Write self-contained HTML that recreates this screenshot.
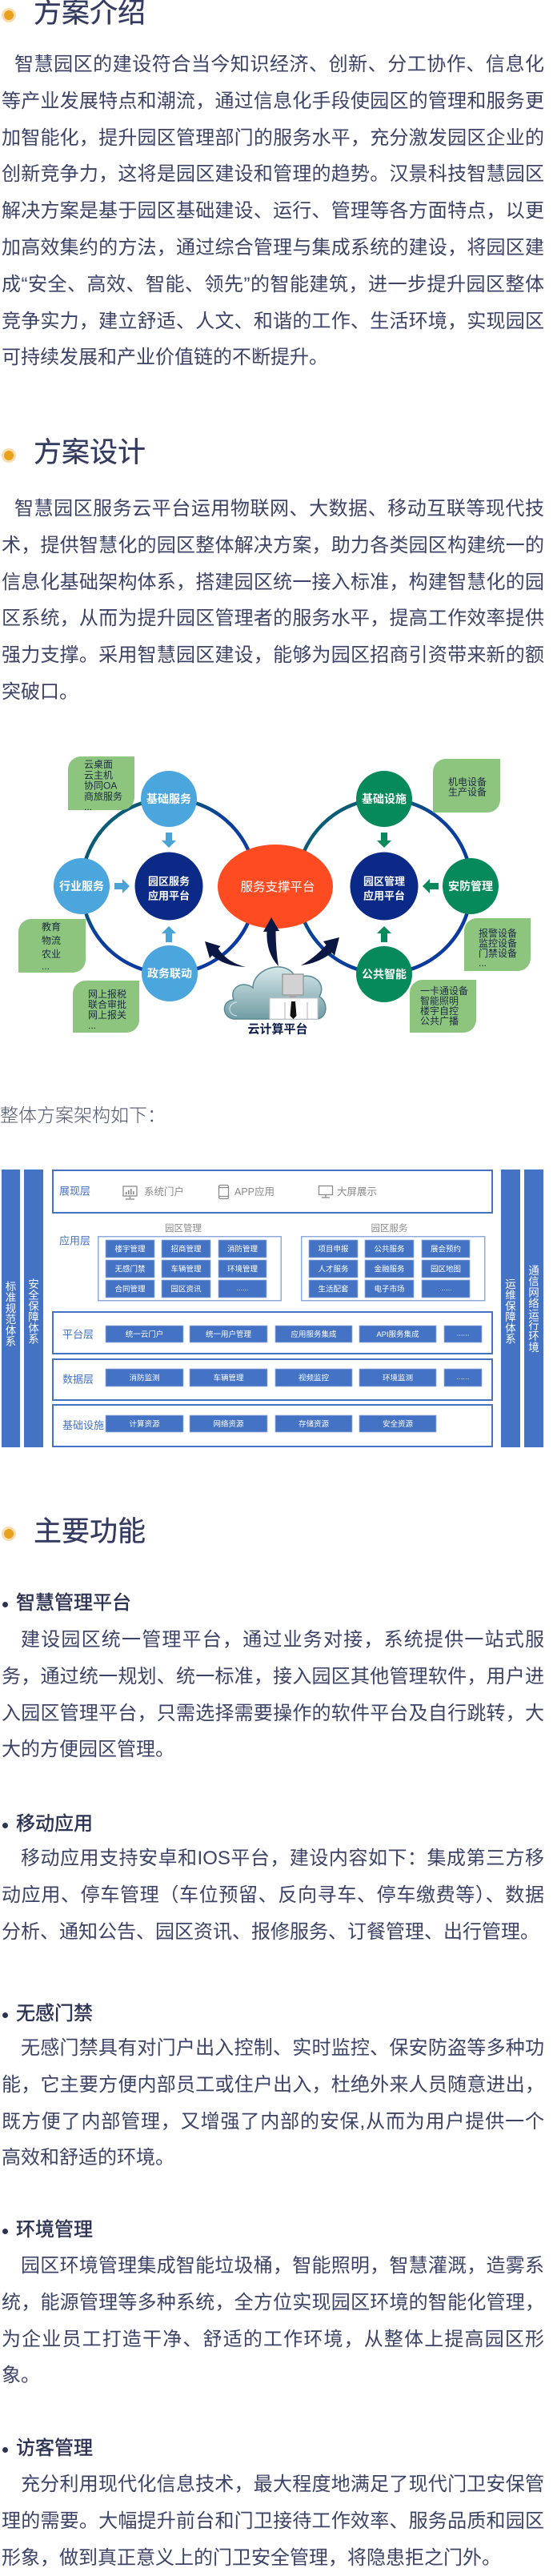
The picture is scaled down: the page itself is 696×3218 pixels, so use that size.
<!DOCTYPE html>
<html lang="zh-CN">
<head>
<meta charset="utf-8">
<style>
  html,body{margin:0;padding:0;background:#fff;}
  body{width:696px;height:3208px;position:relative;overflow:hidden;
       font-family:"Liberation Sans","Noto Sans CJK SC",sans-serif;}
  .h{position:absolute;left:42px;font-size:35px;line-height:40px;color:#353b60;white-space:nowrap;-webkit-text-stroke:0.3px #353b60;}
  .dot{position:absolute;left:2px;width:18px;height:18px;border-radius:50%;background:#f7ddb0;}
  .dot::after{content:"";position:absolute;left:3px;top:3px;width:12px;height:12px;border-radius:50%;background:#e9a11e;}
  .p{position:absolute;left:2px;width:678px;font-size:24px;line-height:45.8px;color:#3d4367;}
  .p div{text-align:justify;text-align-last:justify;height:45.8px;}
  .p div.last{text-align-last:left;}
  .p div.i16{padding-left:16px;}
  .p div.i24{padding-left:24px;}
  .s{position:absolute;left:20px;font-size:24px;line-height:46px;color:#2c3252;white-space:nowrap;-webkit-text-stroke:0.45px #2c3252;}
  .sd{position:absolute;left:3px;width:7px;height:7px;border-radius:50%;background:#2c3252;}
  .lbl{position:absolute;left:0;font-size:23px;line-height:30px;color:#50566f;font-weight:300;white-space:nowrap;}
  svg{position:absolute;left:0;}
</style>
</head>
<body>

<!-- Section 1 -->
<div class="dot" style="top:9.5px"></div>
<div class="h" style="top:-3px">方案介绍</div>
<div class="p" style="top:58px">
  <div class="i16">智慧园区的建设符合当今知识经济、创新、分工协作、信息化</div>
  <div>等产业发展特点和潮流，通过信息化手段使园区的管理和服务更</div>
  <div>加智能化，提升园区管理部门的服务水平，充分激发园区企业的</div>
  <div>创新竞争力，这将是园区建设和管理的趋势。汉景科技智慧园区</div>
  <div>解决方案是基于园区基础建设、运行、管理等各方面特点，以更</div>
  <div>加高效集约的方法，通过综合管理与集成系统的建设，将园区建</div>
  <div>成“安全、高效、智能、领先”的智能建筑，进一步提升园区整体</div>
  <div>竞争实力，建立舒适、人文、和谐的工作、生活环境，实现园区</div>
  <div class="last">可持续发展和产业价值链的不断提升。</div>
</div>

<!-- Section 2 -->
<div class="dot" style="top:560px"></div>
<div class="h" style="top:546px">方案设计</div>
<div class="p" style="top:613px">
  <div class="i16">智慧园区服务云平台运用物联网、大数据、移动互联等现代技</div>
  <div>术，提供智慧化的园区整体解决方案，助力各类园区构建统一的</div>
  <div>信息化基础架构体系，搭建园区统一接入标准，构建智慧化的园</div>
  <div>区系统，从而为提升园区管理者的服务水平，提高工作效率提供</div>
  <div>强力支撑。采用智慧园区建设，能够为园区招商引资带来新的额</div>
  <div class="last">突破口。</div>
</div>

<!-- Diagram 1 -->
<svg width="696" height="400" viewBox="0 900 696 400" style="top:900px" font-family="Liberation Sans, Noto Sans CJK SC, sans-serif">
  <defs>
    <linearGradient id="rg" x1="0" y1="0" x2="1" y2="1">
      <stop offset="0" stop-color="#0b5f72"/>
      <stop offset="0.3" stop-color="#0b5878"/>
      <stop offset="0.45" stop-color="#0a3f9c"/>
      <stop offset="1" stop-color="#0a38a0"/>
    </linearGradient>
    <linearGradient id="cg" x1="0" y1="0" x2="0" y2="1">
      <stop offset="0" stop-color="#d6e8ea"/>
      <stop offset="1" stop-color="#719da5"/>
    </linearGradient>
  </defs>
  <!-- rings -->
  <circle cx="211" cy="1107" r="109" fill="none" stroke="url(#rg)" stroke-width="4.5"/>
  <circle cx="480" cy="1107" r="109" fill="none" stroke="url(#rg)" stroke-width="4.5"/>
  <!-- ellipse -->
  <ellipse cx="344" cy="1107.5" rx="72" ry="52.5" fill="#ff4b22"/>
  <text x="347" y="1113" font-size="15.5" fill="#fff" text-anchor="middle">服务支撑平台</text>

  <!-- left satellites -->
  <circle cx="211" cy="998" r="35" fill="#4aa6dc"/>
  <circle cx="102" cy="1107" r="35" fill="#4aa6dc"/>
  <circle cx="212" cy="1216" r="35" fill="#4aa6dc"/>
  <text x="211" y="1003" font-size="14" fill="#fff" text-anchor="middle" font-weight="bold">基础服务</text>
  <text x="102" y="1112" font-size="14" fill="#fff" text-anchor="middle" font-weight="bold">行业服务</text>
  <text x="212" y="1221" font-size="14" fill="#fff" text-anchor="middle" font-weight="bold">政务联动</text>
  <!-- left center -->
  <circle cx="211" cy="1107" r="42.5" fill="#0b2a87"/>
  <text x="211" y="1105.5" font-size="13" fill="#fff" text-anchor="middle" font-weight="bold">园区服务</text>
  <text x="211" y="1123.5" font-size="13" fill="#fff" text-anchor="middle" font-weight="bold">应用平台</text>
  <!-- left arrows -->
  <polygon points="207,1040 215,1040 215,1050 220,1050 211,1059 202,1050 207,1050" fill="#49a3d8"/>
  <polygon points="143,1103 153,1103 153,1098 162,1107 153,1116 153,1111 143,1111" fill="#49a3d8"/>
  <polygon points="207,1177 215,1177 215,1166 220,1166 211,1157 202,1166 207,1166" fill="#49a3d8"/>

  <!-- right satellites -->
  <circle cx="480" cy="998" r="35" fill="#06895b"/>
  <circle cx="588" cy="1107" r="35" fill="#06895b"/>
  <circle cx="480" cy="1217" r="35" fill="#06895b"/>
  <text x="480" y="1003" font-size="14" fill="#fff" text-anchor="middle" font-weight="bold">基础设施</text>
  <text x="588" y="1112" font-size="14" fill="#fff" text-anchor="middle" font-weight="bold">安防管理</text>
  <text x="480" y="1222" font-size="14" fill="#fff" text-anchor="middle" font-weight="bold">公共智能</text>
  <circle cx="480" cy="1107" r="42.5" fill="#0b2a87"/>
  <text x="480" y="1105.5" font-size="13" fill="#fff" text-anchor="middle" font-weight="bold">园区管理</text>
  <text x="480" y="1123.5" font-size="13" fill="#fff" text-anchor="middle" font-weight="bold">应用平台</text>
  <polygon points="476,1040 484,1040 484,1050 489,1050 480,1059 471,1050 476,1050" fill="#06895b"/>
  <polygon points="548,1103 537,1103 537,1098 528,1107 537,1116 537,1111 548,1111" fill="#06895b"/>
  <polygon points="476,1177 484,1177 484,1166 489,1166 480,1157 471,1166 476,1166" fill="#06895b"/>

  <!-- green leaf boxes -->
  <g fill="#8dc47e">
    <path d="M85 961 A16 16 0 0 1 101 945 L168 945 L168 996 A16 16 0 0 1 152 1012 L85 1012 Z"/>
    <path d="M23 1164 A16 16 0 0 1 39 1148 L107 1148 L107 1199 A16 16 0 0 1 91 1215 L23 1215 Z"/>
    <path d="M91 1241 A16 16 0 0 1 107 1225 L174 1225 L174 1274 A16 16 0 0 1 158 1290 L91 1290 Z"/>
    <path d="M541 964 A16 16 0 0 1 557 948 L625 948 L625 999 A16 16 0 0 1 609 1015 L541 1015 Z"/>
    <path d="M580 1163 A16 16 0 0 1 596 1147 L663 1147 L663 1197 A16 16 0 0 1 647 1213 L580 1213 Z"/>
    <path d="M512 1240 A16 16 0 0 1 528 1224 L595 1224 L595 1274 A16 16 0 0 1 579 1290 L512 1290 Z"/>
  </g>
  <g font-size="12" fill="#1d2a45">
    <text x="105" y="959">云桌面</text>
    <text x="105" y="972.3">云主机</text>
    <text x="105" y="985.7">协同OA</text>
    <text x="105" y="999">商旅服务</text>
    <text x="105" y="1012">...</text>
    <text x="52" y="1162">教育</text>
    <text x="52" y="1179">物流</text>
    <text x="52" y="1196">农业</text>
    <text x="52" y="1211">...</text>
    <text x="110" y="1246">网上报税</text>
    <text x="110" y="1259">联合审批</text>
    <text x="110" y="1272">网上报关</text>
    <text x="110" y="1285">...</text>
    <text x="560" y="981">机电设备</text>
    <text x="560" y="993.5">生产设备</text>
    <text x="598" y="1170">报警设备</text>
    <text x="598" y="1182.5">监控设备</text>
    <text x="598" y="1195">门禁设备</text>
    <text x="598" y="1207">...</text>
    <text x="525" y="1242">一卡通设备</text>
    <text x="525" y="1254.5">智能照明</text>
    <text x="525" y="1267">楼宇自控</text>
    <text x="525" y="1279.5">公共广播</text>
  </g>

  <!-- cloud -->
  <path d="M293 1273 C277 1272 276 1250 292 1249 C286 1232 305 1225 316 1234 C316 1208 362 1196 370 1224 C385 1211 410 1226 399 1245 C411 1252 409 1273 395 1273 Z"
        fill="url(#cg)" stroke="#5a8a93" stroke-width="1.5"/>
  <path d="M296 1269 C284 1268 284 1253 296 1252" fill="none" stroke="#ffffff" stroke-opacity="0.6" stroke-width="1.2"/>
  <!-- person -->
  <rect x="353" y="1217" width="26" height="26" fill="#d2d2d2" stroke="#9e9e9e" stroke-width="1.5"/>
  <polygon points="360,1243 372,1243 366,1251" fill="#a8a8a8"/>
  <rect x="337" y="1247" width="60" height="26" fill="#ffffff" stroke="#c9c9c9" stroke-width="1"/>
  <line x1="356" y1="1252" x2="356" y2="1273" stroke="#bdbdbd" stroke-width="1.2"/>
  <line x1="384" y1="1252" x2="384" y2="1273" stroke="#bdbdbd" stroke-width="1.2"/>
  <polygon points="364,1251 369,1251 370.5,1269 366.5,1273 362.5,1269" fill="#111"/>
  <text x="347" y="1290.5" font-size="15" font-weight="bold" fill="#0d1d4a" text-anchor="middle">云计算平台</text>

  <!-- dark swoosh arrows -->
  <g fill="#0a1742">
    <path d="M272 1184 Q283 1202 307 1208 Q279 1207 263.5 1192 Z"/>
    <polygon points="256,1176 275.5,1182 262,1197"/>
    <path d="M333.5 1162 Q332 1190 348 1207 Q344.5 1186 344.5 1162 Z"/>
    <polygon points="339,1146 329,1164 349,1163"/>
    <path d="M408 1180 Q393 1197 376 1206 Q399 1203 416 1189 Z"/>
    <polygon points="424,1171 404,1176 418,1194"/>
  </g>
</svg>

<div class="lbl" style="top:1378px">整体方案架构如下：</div>

<!-- Architecture diagram -->
<svg width="696" height="370" viewBox="0 1450 696 370" style="top:1450px" font-family="Liberation Sans, Noto Sans CJK SC, sans-serif">
  <g fill="#4472c4">
    <rect x="2" y="1461" width="23" height="347"/>
    <rect x="30" y="1461" width="24" height="347"/>
    <rect x="626" y="1461" width="24" height="347"/>
    <rect x="655" y="1461" width="24" height="347"/>
  </g>
  <g font-size="13.5" fill="#fff" text-anchor="middle">
    <text x="13.5" y="1612"><tspan x="13.5">标</tspan><tspan x="13.5" dy="13.7">准</tspan><tspan x="13.5" dy="13.7">规</tspan><tspan x="13.5" dy="13.7">范</tspan><tspan x="13.5" dy="13.7">体</tspan><tspan x="13.5" dy="13.7">系</tspan></text>
    <text x="42" y="1609"><tspan x="42">安</tspan><tspan x="42" dy="13.7">全</tspan><tspan x="42" dy="13.7">保</tspan><tspan x="42" dy="13.7">障</tspan><tspan x="42" dy="13.7">体</tspan><tspan x="42" dy="13.7">系</tspan></text>
    <text x="638" y="1609"><tspan x="638">运</tspan><tspan x="638" dy="13.7">维</tspan><tspan x="638" dy="13.7">保</tspan><tspan x="638" dy="13.7">障</tspan><tspan x="638" dy="13.7">体</tspan><tspan x="638" dy="13.7">系</tspan></text>
    <text x="667" y="1592"><tspan x="667">通</tspan><tspan x="667" dy="13.7">信</tspan><tspan x="667" dy="13.7">网</tspan><tspan x="667" dy="13.7">络</tspan><tspan x="667" dy="13.7">运</tspan><tspan x="667" dy="13.7">行</tspan><tspan x="667" dy="13.7">环</tspan><tspan x="667" dy="13.7">境</tspan></text>
  </g>

  <!-- layer boxes -->
  <g fill="#fff" stroke="#4472c4" stroke-width="2">
    <rect x="66" y="1462" width="549" height="53"/>
    <rect x="66" y="1639" width="549" height="52"/>
    <rect x="66" y="1698" width="549" height="51"/>
    <rect x="66" y="1755" width="549" height="52"/>
  </g>
  <g fill="none" stroke="#8eaadb" stroke-width="1.5">
    <rect x="122.75" y="1544.75" width="228.5" height="80"/>
    <rect x="376.75" y="1544.75" width="229" height="80"/>
  </g>

  <!-- layer labels -->
  <g font-size="13" fill="#4472c4">
    <text x="74" y="1492.5">展现层</text>
    <text x="74" y="1554.5">应用层</text>
    <text x="78" y="1671.5">平台层</text>
    <text x="78" y="1727.5">数据层</text>
    <text x="78" y="1785">基础设施</text>
  </g>
  <g font-size="11.5" fill="#8c8c8c" text-anchor="middle">
    <text x="229" y="1538">园区管理</text>
    <text x="486.5" y="1538">园区服务</text>
  </g>

  <!-- presentation items -->
  <g font-size="12.5" fill="#8a8a8a">
    <text x="180" y="1493">系统门户</text>
    <text x="293" y="1493">APP应用</text>
    <text x="421" y="1493">大屏展示</text>
  </g>
  <g fill="none" stroke="#8a8a8a" stroke-width="1.3">
    <rect x="154" y="1482" width="17" height="12"/>
    <line x1="162.5" y1="1494" x2="162.5" y2="1497.5"/>
    <line x1="157" y1="1498" x2="168" y2="1498"/>
    <rect x="273.5" y="1480.5" width="12" height="17" rx="2"/>
    <line x1="273.5" y1="1483.5" x2="285.5" y2="1483.5"/>
    <line x1="273.5" y1="1494.5" x2="285.5" y2="1494.5"/>
    <rect x="398.5" y="1481.5" width="17" height="11"/>
    <line x1="407" y1="1492.5" x2="407" y2="1495.5"/>
    <line x1="402" y1="1496" x2="412" y2="1496"/>
  </g>
  <g fill="#8a8a8a">
    <rect x="157" y="1489" width="1.6" height="3"/>
    <rect x="160" y="1487" width="1.6" height="5"/>
    <rect x="163" y="1485" width="1.6" height="7"/>
    <rect x="166" y="1488" width="1.6" height="4"/>
  </g>

  <!-- buttons -->
  <g fill="#4472c4" stroke="#9cb3df" stroke-width="0.8">
    <rect x="132" y="1549" width="61" height="22"/><rect x="202" y="1549" width="61" height="22"/><rect x="273" y="1549" width="60" height="22"/>
    <rect x="132" y="1574" width="61" height="22"/><rect x="202" y="1574" width="61" height="22"/><rect x="273" y="1574" width="60" height="22"/>
    <rect x="132" y="1599" width="61" height="22"/><rect x="202" y="1599" width="61" height="22"/><rect x="273" y="1599" width="60" height="22"/>
    <rect x="386" y="1549" width="61" height="22"/><rect x="456" y="1549" width="61" height="22"/><rect x="527" y="1549" width="60" height="22"/>
    <rect x="386" y="1574" width="61" height="22"/><rect x="456" y="1574" width="61" height="22"/><rect x="527" y="1574" width="60" height="22"/>
    <rect x="386" y="1599" width="61" height="22"/><rect x="456" y="1599" width="61" height="22"/><rect x="527" y="1599" width="60" height="22"/>

    <rect x="132" y="1656" width="97" height="21"/><rect x="237" y="1656" width="97" height="21"/><rect x="344" y="1656" width="96" height="21"/><rect x="449" y="1656" width="96" height="21"/><rect x="555" y="1656" width="47" height="21"/>
    <rect x="132" y="1710" width="97" height="22"/><rect x="237" y="1710" width="97" height="22"/><rect x="344" y="1710" width="96" height="22"/><rect x="449" y="1710" width="96" height="22"/><rect x="555" y="1710" width="47" height="22"/>
    <rect x="132" y="1768" width="97" height="21"/><rect x="237" y="1768" width="97" height="21"/><rect x="344" y="1768" width="96" height="21"/><rect x="449" y="1768" width="96" height="21"/>
  </g>
  <g font-size="9.5" fill="#fff" text-anchor="middle">
    <text x="162.5" y="1563.5">楼宇管理</text><text x="232.5" y="1563.5">招商管理</text><text x="303" y="1563.5">消防管理</text>
    <text x="162.5" y="1588.5">无感门禁</text><text x="232.5" y="1588.5">车辆管理</text><text x="303" y="1588.5">环境管理</text>
    <text x="162.5" y="1613.5">合同管理</text><text x="232.5" y="1613.5">园区资讯</text><text x="303" y="1612">......</text>
    <text x="416.5" y="1563.5">项目申报</text><text x="486.5" y="1563.5">公共服务</text><text x="557" y="1563.5">展会预约</text>
    <text x="416.5" y="1588.5">人才服务</text><text x="486.5" y="1588.5">金融服务</text><text x="557" y="1588.5">园区地图</text>
    <text x="416.5" y="1613.5">生活配套</text><text x="486.5" y="1613.5">电子市场</text><text x="557" y="1612">......</text>

    <text x="180.5" y="1670">统一云门户</text><text x="285.5" y="1670">统一用户管理</text><text x="392" y="1670">应用服务集成</text><text x="497" y="1670">API服务集成</text><text x="578.5" y="1668.5">......</text>
    <text x="180.5" y="1724.5">消防监测</text><text x="285.5" y="1724.5">车辆管理</text><text x="392" y="1724.5">视频监控</text><text x="497" y="1724.5">环境监测</text><text x="578.5" y="1723">......</text>
    <text x="180.5" y="1782">计算资源</text><text x="285.5" y="1782">网络资源</text><text x="392" y="1782">存储资源</text><text x="497" y="1782">安全资源</text>
  </g>
</svg>

<!-- Section 3 -->
<div class="dot" style="top:1907px"></div>
<div class="h" style="top:1894px">主要功能</div>

<div class="sd" style="top:2001px"></div>
<div class="s" style="top:1980px">智慧管理平台</div>
<div class="p" style="top:2026px">
  <div class="i24">建设园区统一管理平台，通过业务对接，系统提供一站式服</div>
  <div>务，通过统一规划、统一标准，接入园区其他管理软件，用户进</div>
  <div>入园区管理平台，只需选择需要操作的软件平台及自行跳转，大</div>
  <div class="last">大的方便园区管理。</div>
</div>

<div class="sd" style="top:2277px"></div>
<div class="s" style="top:2256px">移动应用</div>
<div class="p" style="top:2299px">
  <div class="i24">移动应用支持安卓和IOS平台，建设内容如下：集成第三方移</div>
  <div>动应用、停车管理（车位预留、反向寻车、停车缴费等）、数据</div>
  <div class="last">分析、通知公告、园区资讯、报修服务、订餐管理、出行管理。</div>
</div>

<div class="sd" style="top:2514px"></div>
<div class="s" style="top:2493px">无感门禁</div>
<div class="p" style="top:2536px">
  <div class="i24">无感门禁具有对门户出入控制、实时监控、保安防盗等多种功</div>
  <div>能，它主要方便内部员工或住户出入，杜绝外来人员随意进出，</div>
  <div>既方便了内部管理，又增强了内部的安保,从而为用户提供一个</div>
  <div class="last">高效和舒适的环境。</div>
</div>

<div class="sd" style="top:2784px"></div>
<div class="s" style="top:2763px">环境管理</div>
<div class="p" style="top:2808px">
  <div class="i24">园区环境管理集成智能垃圾桶，智能照明，智慧灌溉，造雾系</div>
  <div>统，能源管理等多种系统，全方位实现园区环境的智能化管理，</div>
  <div>为企业员工打造干净、舒适的工作环境，从整体上提高园区形</div>
  <div class="last">象。</div>
</div>

<div class="sd" style="top:3057px"></div>
<div class="s" style="top:3036px">访客管理</div>
<div class="p" style="top:3081px">
  <div class="i24">充分利用现代化信息技术，最大程度地满足了现代门卫安保管</div>
  <div>理的需要。大幅提升前台和门卫接待工作效率、服务品质和园区</div>
  <div class="last">形象，做到真正意义上的门卫安全管理，将隐患拒之门外。</div>
</div>

</body>
</html>
